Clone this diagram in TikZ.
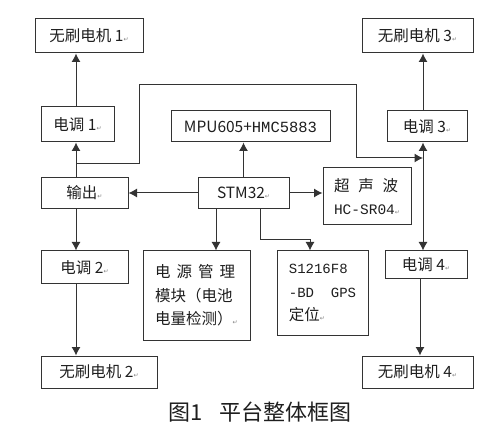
\documentclass[tikz,border=0pt]{standalone}
\usepackage{fontspec}
\setmainfont{Noto Sans CJK SC}
\newfontfamily\monof{Liberation Mono}
\newfontfamily\dvf{DejaVu Sans}
\usetikzlibrary{arrows.meta}
\definecolor{ln}{HTML}{333333}
\definecolor{tx}{HTML}{1E1E1E}
\newcommand\retm{{\dvf\fontsize{6}{7}\selectfont\color{gray}↵}}
\tikzset{
  box/.style={draw=ln, line width=1pt, inner sep=0pt, text=tx, font=\fontsize{15.5}{23.5}\selectfont},
  arr/.style={draw=ln, line width=1pt, -{Latex[length=8.5pt,width=9pt]}},
  wire/.style={draw=ln, line width=1pt},
}
\begin{document}
\begin{tikzpicture}[x=1pt,y=-1pt]
\useasboundingbox (0,0) rectangle (500,443);
% left column
\node[box, minimum width=108, minimum height=34] (m1) at (89,36) {无刷电机 1\retm};
\node[box, minimum width=73, minimum height=35] (e1) at (77.5,124.5) {电调 1\retm};
\node[box, minimum width=87, minimum height=31] (out) at (84.5,193) {输出\retm};
\node[box, minimum width=87, minimum height=33] (e2) at (84.5,267.5) {电调 2\retm};
\node[box, minimum width=116, minimum height=32] (m2) at (99,372) {无刷电机 2\retm};
% center
\node[box, minimum width=159, minimum height=31] (mpu) at (250.5,126.5) {MPU605+{\monof\fontsize{15.5}{20}\selectfont HMC5883}};
\node[box, minimum width=91, minimum height=31] (stm) at (243.5,193) {STM32\retm};
\node[box, minimum width=107, minimum height=89, align=left] (pwr) at (196.5,295.5)
  {\makebox[80pt][s]{电\hfill 源\hfill 管\hfill 理}\\模块（电池\\电量检测）\retm};
\node[box, minimum width=91, minimum height=84, align=left] (gps) at (322.5,293)
  {{\monof\fontsize{14}{23.5}\selectfont S1216F8}\\{\monof\fontsize{14}{23.5}\selectfont -BD~~GPS}\\定位\retm};
\node[box, minimum width=88, minimum height=57, align=left] (us) at (367,196.5)
  {\makebox[64pt][s]{超\hfill 声\hfill 波}\\{\monof\fontsize{14.5}{23.5}\selectfont HC-SR04}\retm};
% right column
\node[box, minimum width=111, minimum height=34] (m3) at (417.5,36) {无刷电机 3\retm};
\node[box, minimum width=80, minimum height=31] (e3) at (427,126.5) {电调 3\retm};
\node[box, minimum width=82, minimum height=28] (e4) at (426,265) {电调 4\retm};
\node[box, minimum width=111, minimum height=32] (m4) at (417.5,372) {无刷电机 4\retm};
% caption
\node[text=tx, font=\fontsize{22}{24}\selectfont] (cap) at (260,412) {图1\hspace{16pt}平台整体框图};
% coordinates
\coordinate (jL) at (76,164);
\coordinate (fa) at (139,164);
\coordinate (fb) at (139,85);
\coordinate (fc) at (356,85);
\coordinate (fd) at (356,158);
\coordinate (jR) at (423,158);
\coordinate (xR) at (420,0);
\coordinate (xP) at (216,0);
\coordinate (ga) at (260,240);
\coordinate (gb) at (310,240);
% left connectors
\draw[wire] (out.north -| jL) -- (jL);
\draw[arr] (jL) -- (e1.south -| jL);
\draw[arr] (e1.north -| jL) -- (m1.south -| jL);
\draw[arr] (out.south -| jL) -- (e2.north -| jL);
\draw[arr] (e2.south -| jL) -- (m2.north -| jL);
% feed to right
\draw[arr] (jL) -- (fa) -- (fb) -- (fc) -- (fd) -- (jR);
\draw[arr] (jR) -- (e3.south -| jR);
\draw[arr] (e3.north -| jR) -- (m3.south -| jR);
\draw[arr] (jR) -- (e4.north -| jR);
\draw[arr] (e4.south -| xR) -- (m4.north -| xR);
% STM32 connectors
\draw[arr] (stm.west) -- (out.east);
\draw[arr] (stm.north) -- (mpu.south -| stm.north);
\draw[arr] (stm.east) -- (us.west |- stm.east);
\draw[arr] (stm.south -| xP) -- (pwr.north -| xP);
\draw[arr] (stm.south -| ga) -- (ga) -- (gb) -- (gps.north -| gb);
\end{tikzpicture}
\end{document}
